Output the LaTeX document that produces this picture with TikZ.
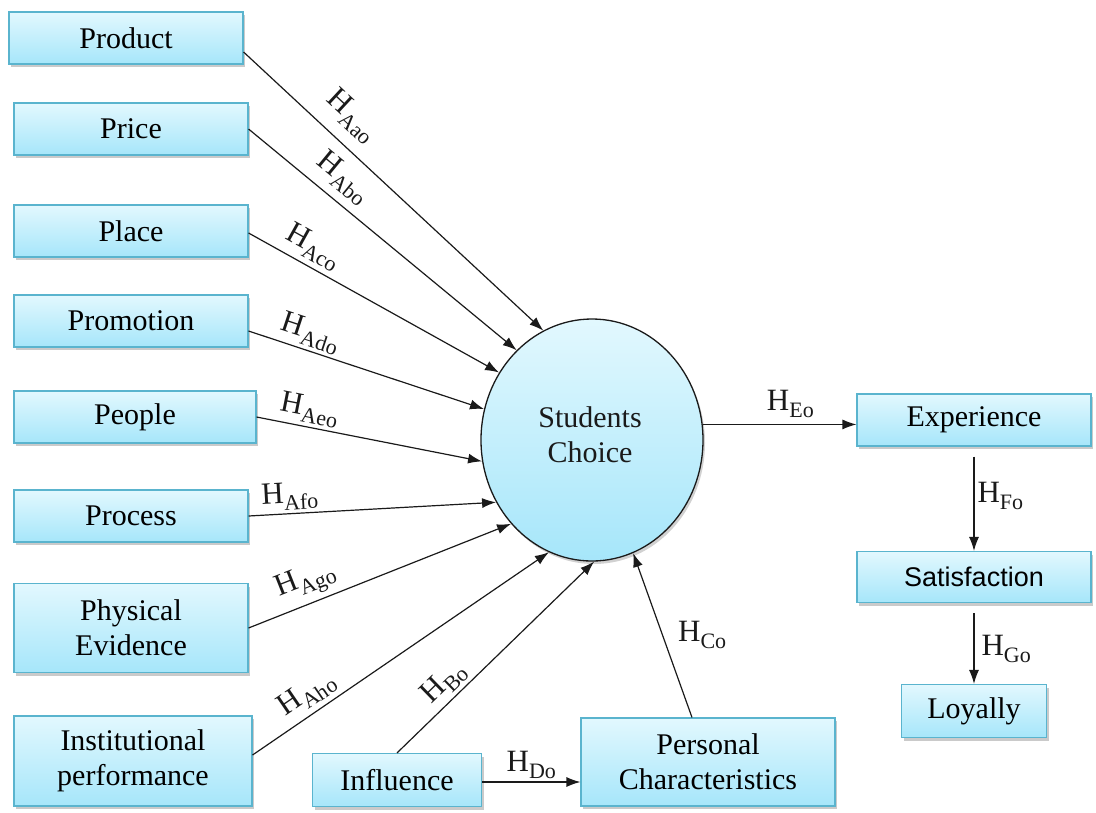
\documentclass[tikz,border=0pt]{standalone}
\usepackage{fontspec}
\setmainfont{Liberation Serif}
\newfontfamily\arialfont{Liberation Sans}
\usetikzlibrary{arrows.meta,shadows,shapes.geometric,calc}

\definecolor{boxline}{HTML}{5AB4CE}
\definecolor{boxtop}{HTML}{E2F8FE}
\definecolor{boxbot}{HTML}{A6E6FA}
\definecolor{inkline}{HTML}{1A1A1A}

% hypothesis label: H with a lowered small index
\newcommand\hyp[1]{H\raisebox{-7pt}{\fontsize{22}{22}\selectfont #1}}

\tikzset{
  factor/.style={rectangle, draw=boxline, line width=1.1pt,
    top color=boxtop, bottom color=boxbot, inner sep=0pt, align=center,
    font=\fontsize{30}{35}\selectfont,
    drop shadow={shadow xshift=2pt, shadow yshift=-3pt, opacity=0.35, fill=black!60}},
  core/.style={ellipse, draw=inkline, line width=1.3pt,
    top color=boxtop, bottom color=boxbot, inner sep=0pt,
    drop shadow={shadow xshift=2pt, shadow yshift=-3pt, opacity=0.3, fill=black!60}},
  coretext/.style={align=center, font=\fontsize{30}{35}\selectfont, text=inkline},
  link/.style={draw=inkline, line width=1.2pt, -{Latex[length=14pt,width=10pt]}},
  hlabel/.style={font=\fontsize{31}{31}\selectfont, inner sep=3pt, text=inkline}
}

\begin{document}
\begin{tikzpicture}[x=1pt,y=-1pt]
\useasboundingbox (0,0) rectangle (1096,812);

% marketing-mix factors
\node[factor, minimum width=234pt, minimum height=52pt] (product) at (126,38) {Product};
\node[factor, minimum width=234pt, minimum height=52pt] (price) at (131,129) {Price};
\node[factor, minimum width=234pt, minimum height=52pt] (place) at (131,231) {Place};
\node[factor, minimum width=234pt, minimum height=52pt] (promotion) at (131,321) {Promotion};
\node[factor, minimum width=242pt, minimum height=52pt] (people) at (135,417) {People};
\node[factor, minimum width=234pt, minimum height=52pt] (process) at (131,516) {Process};
\node[factor, minimum width=234pt, minimum height=89pt] (physical) at (131,628) {Physical\\Evidence};
\node[factor, minimum width=238pt, minimum height=90pt] (institution) at (133,761) {Institutional\\performance};

% other antecedents
\node[factor, minimum width=169pt, minimum height=53pt] (influence) at (397,780) {Influence};
\node[factor, minimum width=254pt, minimum height=88pt] (personal) at (708,762) {Personal\\Characteristics};

% central construct
\node[core, minimum width=222pt, minimum height=242pt] (choice) at (592,440) {};
\node[coretext] (choicetext) at (590,435) {Students\\Choice};

% outcomes
\node[factor, minimum width=234pt, minimum height=52pt] (experience) at (974,420) {Experience};
\node[factor, minimum width=234pt, minimum height=51pt, font=\arialfont\fontsize{27}{30}\selectfont] (satisfaction) at (974,577) {Satisfaction};
\node[factor, minimum width=145pt, minimum height=53pt] (loyally) at (974,711) {Loyally};

% paths into the central construct
\draw[link] ([yshift=-14pt]product.east) -- node[hlabel, sloped, above=9pt, pos=0.3] {\hyp{Aao}} (choice.114);
\draw[link] (price.east) -- node[hlabel, sloped, above=5pt, pos=0.3] {\hyp{Abo}} (choice.130);
\draw[link] ([yshift=-2pt]place.east) -- node[hlabel, sloped, above=2pt, pos=0.22] {\hyp{Aco}} (choice.144);
\draw[link] ([yshift=-10pt]promotion.east) -- node[hlabel, sloped, above, pos=0.24] {\hyp{Ado}} (choice.164);
\draw[link] (people.east) -- node[hlabel, sloped, above, pos=0.22] {\hyp{Aeo}} (choice.191);
\draw[link] (process.east) -- node[hlabel, sloped, above, pos=0.17] {\hyp{Afo}} (choice.213);
\draw[link] (physical.east) -- node[hlabel, sloped, above=2pt, pos=0.25] {\hyp{Ago}} (choice.226);
\draw[link] ([yshift=6pt]institution.east) -- node[hlabel, sloped, above=2pt, pos=0.22] {\hyp{Aho}} (choice.249);
\draw[link] (influence.north) -- node[hlabel, sloped, above, pos=0.3] {\hyp{Bo}} (choice.271);
\draw[link] ([xshift=-16pt]personal.north) -- node[hlabel, right, pos=0.5, xshift=12pt] {\hyp{Co}} (choice.290);
\draw[link] ([yshift=-2pt]influence.east) -- node[hlabel, above, pos=0.5] {\hyp{Do}} ([yshift=-2pt]influence.east -| personal.west);

% paths to the outcomes
\draw[link] (choice.8.7) -- node[hlabel, above=3pt, pos=0.57] {\hyp{Eo}} (choice.8.7 -| experience.west);
\draw[link] ([yshift=-10pt]experience.south) -- node[hlabel, right, pos=0.42] {\hyp{Fo}} (satisfaction.north);
\draw[link] ([yshift=-10pt]satisfaction.south) -- node[hlabel, right, pos=0.5, xshift=4pt] {\hyp{Go}} (loyally.north);
\end{tikzpicture}
\end{document}
